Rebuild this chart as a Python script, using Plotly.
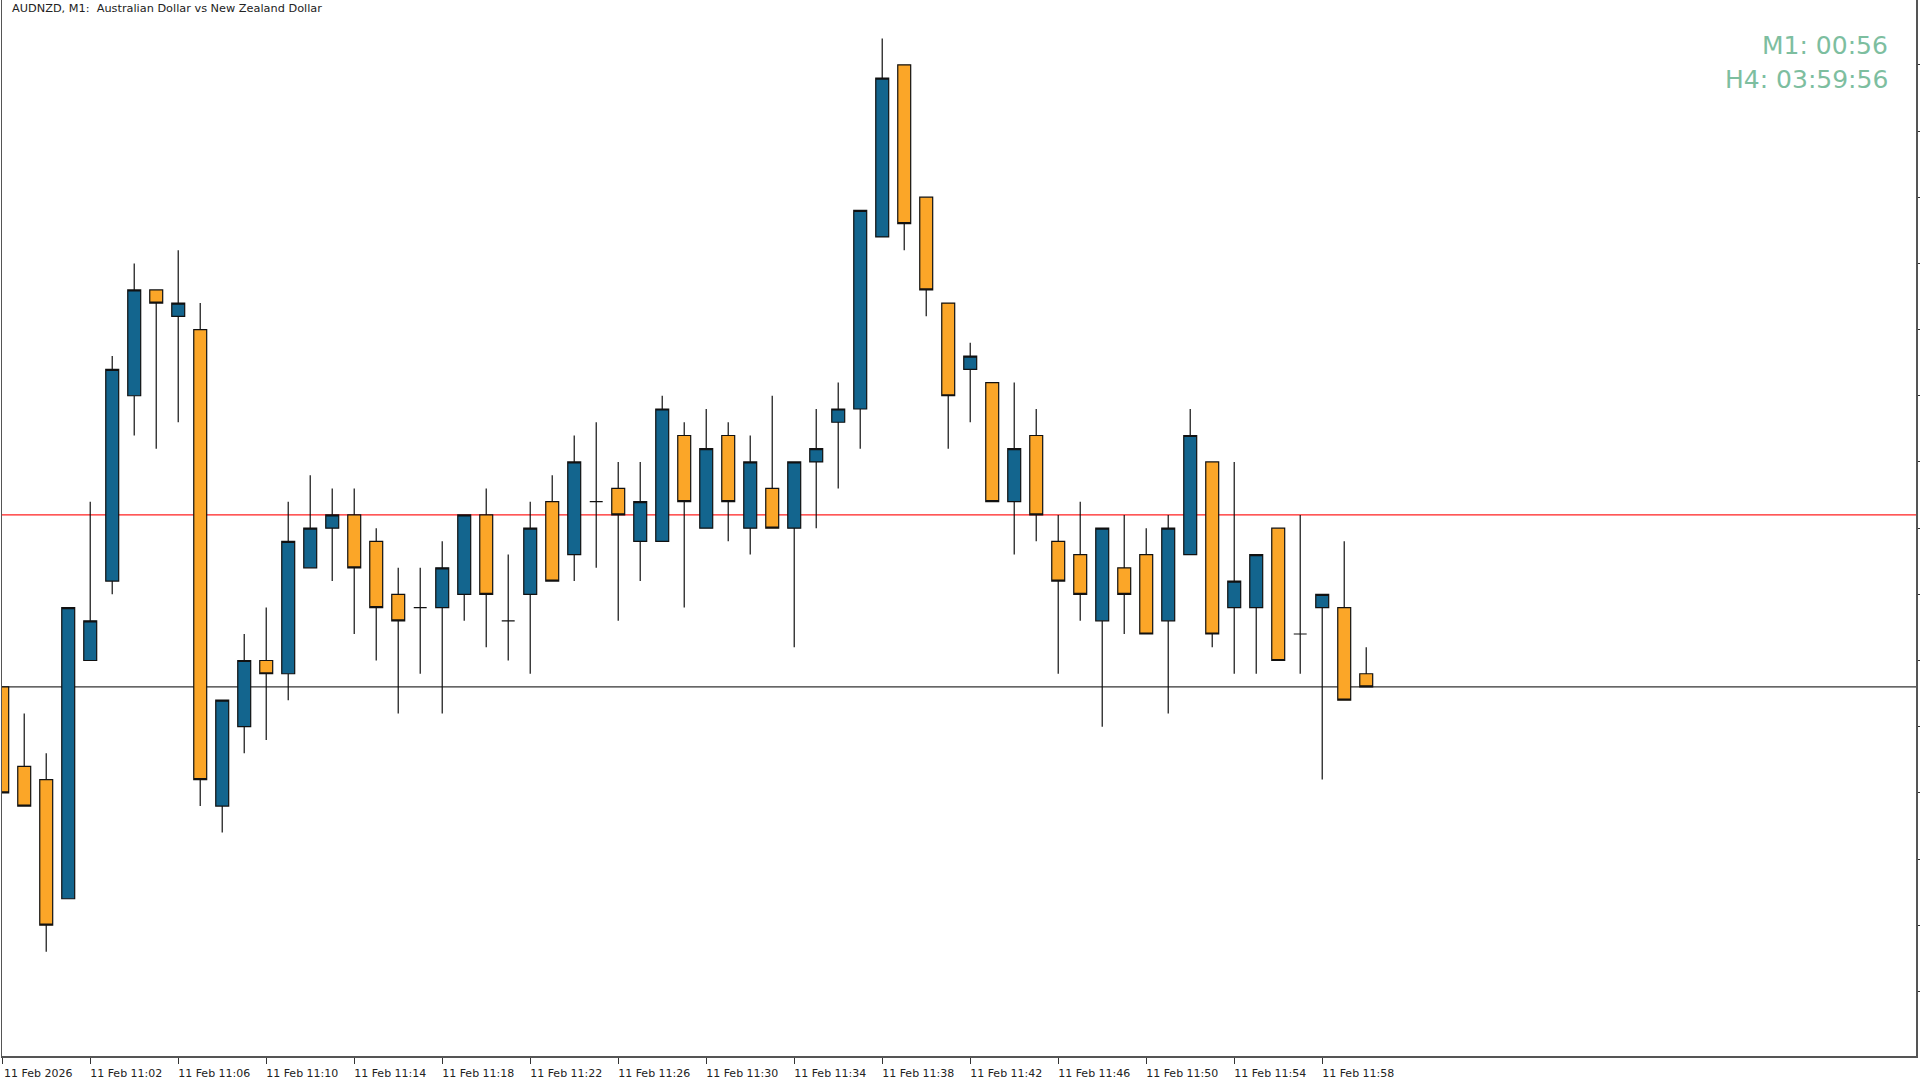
import plotly.graph_objects as go

# ---- data (AUDNZD M1, 10:58 .. 12:00) ----
x_index = list(range(63))
opens = [1.17318, 1.17312, 1.17311, 1.17302, 1.17320, 1.17326, 1.17340, 1.17348, 1.17346, 1.17345,
         1.17309, 1.17315, 1.17320, 1.17319, 1.17327, 1.17330, 1.17331, 1.17329, 1.17325, 1.17324,
         1.17324, 1.17325, 1.17331, 1.17323, 1.17325, 1.17332, 1.17328, 1.17332, 1.17333, 1.17329,
         1.17329, 1.17337, 1.17330, 1.17337, 1.17330, 1.17333, 1.17330, 1.17335, 1.17338, 1.17339,
         1.17352, 1.17365, 1.17355, 1.17347, 1.17342, 1.17341, 1.17332, 1.17337, 1.17329, 1.17328,
         1.17323, 1.17327, 1.17328, 1.17323, 1.17328, 1.17335, 1.17324, 1.17324, 1.17330, 1.17322,
         1.17324, 1.17324, 1.17319]
highs = [1.17318, 1.17316, 1.17313, 1.17324, 1.17332, 1.17343, 1.17350, 1.17348, 1.17351, 1.17347,
         1.17317, 1.17322, 1.17324, 1.17332, 1.17334, 1.17333, 1.17333, 1.17330, 1.17327, 1.17327,
         1.17329, 1.17331, 1.17333, 1.17328, 1.17332, 1.17334, 1.17337, 1.17338, 1.17335, 1.17335,
         1.17340, 1.17338, 1.17339, 1.17338, 1.17337, 1.17340, 1.17335, 1.17339, 1.17341, 1.17354,
         1.17367, 1.17365, 1.17355, 1.17347, 1.17344, 1.17341, 1.17341, 1.17339, 1.17331, 1.17332,
         1.17330, 1.17331, 1.17330, 1.17331, 1.17339, 1.17335, 1.17335, 1.17328, 1.17330, 1.17331,
         1.17325, 1.17329, 1.17321]
lows = [1.17310, 1.17309, 1.17298, 1.17302, 1.17320, 1.17325, 1.17337, 1.17336, 1.17338, 1.17309,
        1.17307, 1.17313, 1.17314, 1.17317, 1.17327, 1.17326, 1.17322, 1.17320, 1.17316, 1.17319,
        1.17316, 1.17323, 1.17321, 1.17320, 1.17319, 1.17326, 1.17326, 1.17327, 1.17323, 1.17326,
        1.17329, 1.17324, 1.17330, 1.17329, 1.17328, 1.17330, 1.17321, 1.17330, 1.17333, 1.17336,
        1.17352, 1.17351, 1.17346, 1.17336, 1.17338, 1.17332, 1.17328, 1.17329, 1.17319, 1.17323,
        1.17315, 1.17322, 1.17322, 1.17316, 1.17328, 1.17321, 1.17319, 1.17319, 1.17320, 1.17319,
        1.17311, 1.17317, 1.17318]
closes = [1.17310, 1.17309, 1.17300, 1.17324, 1.17323, 1.17342, 1.17348, 1.17347, 1.17347, 1.17311,
          1.17317, 1.17320, 1.17319, 1.17329, 1.17330, 1.17331, 1.17327, 1.17324, 1.17323, 1.17324,
          1.17327, 1.17331, 1.17325, 1.17323, 1.17330, 1.17326, 1.17335, 1.17332, 1.17331, 1.17332,
          1.17339, 1.17332, 1.17336, 1.17332, 1.17335, 1.17330, 1.17335, 1.17336, 1.17339, 1.17354,
          1.17364, 1.17353, 1.17348, 1.17340, 1.17343, 1.17332, 1.17336, 1.17331, 1.17326, 1.17325,
          1.17330, 1.17325, 1.17322, 1.17330, 1.17337, 1.17322, 1.17326, 1.17328, 1.17320, 1.17322,
          1.17325, 1.17317, 1.17318]

bid_price = 1.17318
red_level = 1.17331

tick_positions = [0, 4, 8, 12, 16, 20, 24, 28, 32, 36, 40, 44, 48, 52, 56, 60]
tick_labels = ["11 Feb 2026", "11 Feb 11:02", "11 Feb 11:06", "11 Feb 11:10", "11 Feb 11:14",
               "11 Feb 11:18", "11 Feb 11:22", "11 Feb 11:26", "11 Feb 11:30", "11 Feb 11:34",
               "11 Feb 11:38", "11 Feb 11:42", "11 Feb 11:46", "11 Feb 11:50", "11 Feb 11:54",
               "11 Feb 11:58"]

title_text = "AUDNZD, M1:  Australian Dollar vs New Zealand Dollar"
timer_m1 = "M1: 00:56"
timer_h4 = "H4: 03:59:56"

BULL = "#13658E"
BEAR = "#FBA628"
TIMER_COLOR = "#7DBE9F"

fig = go.Figure()
fig.add_trace(go.Candlestick(
    x=x_index, open=opens, high=highs, low=lows, close=closes,
    increasing=dict(fillcolor=BULL, line=dict(color="#111111", width=1.2)),
    decreasing=dict(fillcolor=BEAR, line=dict(color="#111111", width=1.2)),
    whiskerwidth=0, hoverinfo="skip", showlegend=False,
))

fig.add_shape(type="line", xref="paper", x0=0, x1=1, yref="y", y0=red_level, y1=red_level,
              line=dict(color="#FF2020", width=1.2), layer="below")
fig.add_shape(type="line", xref="paper", x0=0, x1=1, yref="y", y0=bid_price, y1=bid_price,
              line=dict(color="#333333", width=1.2), layer="below")

plot_h = 1058
fig.add_annotation(text=title_text, xref="paper", yref="paper", x=0, y=1,
                   xanchor="left", yanchor="top", xshift=8, yshift=0, showarrow=False,
                   font=dict(family="DejaVu Sans", size=11.3, color="#222222"))
fig.add_annotation(text=timer_m1, xref="paper", yref="paper", x=1, y=1 - 46 / plot_h,
                   xanchor="right", yanchor="middle", xshift=-26, showarrow=False,
                   font=dict(family="DejaVu Sans", size=25, color=TIMER_COLOR))
fig.add_annotation(text=timer_h4, xref="paper", yref="paper", x=1, y=1 - 80 / plot_h,
                   xanchor="right", yanchor="middle", xshift=-26, showarrow=False,
                   font=dict(family="DejaVu Sans", size=25, color=TIMER_COLOR))

fig.update_layout(
    width=1920, height=1080,
    margin=dict(l=1, r=3, t=0, b=22),
    paper_bgcolor="white", plot_bgcolor="white",
    boxgap=0.16,
    font=dict(family="DejaVu Sans", size=11, color="#222222"),
    xaxis=dict(
        range=[-0.01, 86.99], rangeslider=dict(visible=False),
        tickmode="array", tickvals=tick_positions, ticktext=tick_labels,
        ticks="outside", ticklen=6, tickcolor="#333333", tickwidth=1,
        ticklabelshift=36, showgrid=False, zeroline=False,
        showline=True, linecolor="#555555", linewidth=1.5, mirror=False,
        tickfont=dict(family="DejaVu Sans", size=11, color="#222222"),
        fixedrange=True,
    ),
    yaxis=dict(
        range=[1.1729012, 1.1736990], side="right",
        tick0=1.17300, dtick=0.00005, ticks="outside", ticklen=4,
        tickcolor="#333333", showticklabels=False, showgrid=False, zeroline=False,
        showline=True, linecolor="#555555", linewidth=1.5, mirror=True,
        fixedrange=True,
    ),
)

fig.write_html(
    "out.html",
    config={"displayModeBar": False, "staticPlot": True},
    post_script="document.body.style.margin='0';document.body.style.overflow='hidden';",
)
